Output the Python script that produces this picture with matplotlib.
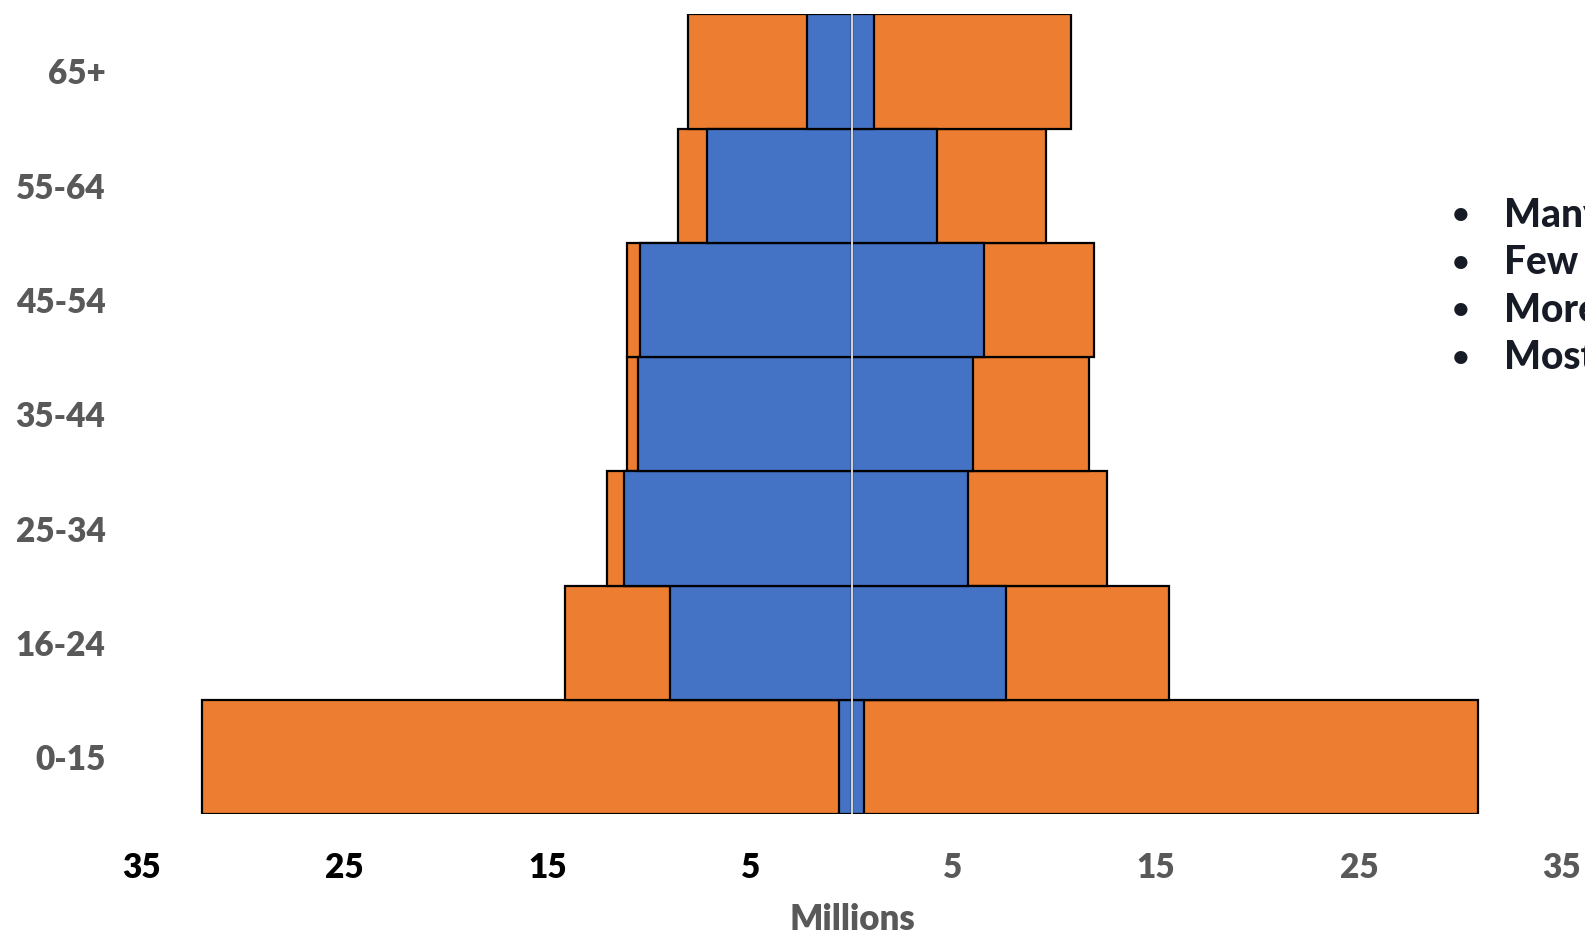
import matplotlib
matplotlib.use("Agg")
import matplotlib.pyplot as plt
import numpy as np

# Age bands, bottom to top
age_groups = ["0-15", "16-24", "25-34", "35-44", "45-54", "55-64", "65+"]

# Millions of people; left half of the pyramid, right half of the pyramid
left_total = [32.0, 14.15, 12.04, 11.06, 11.06, 8.55, 8.06]
left_blue = [0.64, 8.97, 11.22, 10.51, 10.44, 7.12, 2.18]
right_blue = [0.60, 7.63, 5.72, 6.00, 6.51, 4.20, 1.11]
right_total = [30.85, 15.66, 12.59, 11.71, 11.97, 9.60, 10.83]

tick_values = [-35, -25, -15, -5, 5, 15, 25, 35]
tick_labels = ["35", "25", "15", "5", "5", "15", "25", "35"]

notes = ["Many", "Few", "More", "Most"]

ORANGE = "#ED7D31"
BLUE = "#4472C4"
GREY = "#595959"
NAVY = "#161b26"
FONT = "Lato"
WEIGHT = "heavy"

fig = plt.figure(figsize=(15.85, 9.35), dpi=100)
ax = fig.add_axes([0.0893, 0.1291, 0.9853 - 0.0893, 0.9848 - 0.1291])

y = np.arange(len(age_groups))
bar_kw = dict(height=1.0, edgecolor="black", linewidth=1.6)

ax.barh(y, -np.array(left_total), color=ORANGE, zorder=2, **bar_kw)
ax.barh(y, np.array(right_total), color=ORANGE, zorder=2, **bar_kw)
ax.barh(y, -np.array(left_blue), color=BLUE, zorder=3, **bar_kw)
ax.barh(y, np.array(right_blue), color=BLUE, zorder=3, **bar_kw)

ax.axvline(0, color="#e6e6e6", linewidth=1.3, zorder=4)

ax.set_xlim(-35, 35)
ax.set_ylim(-0.5, len(age_groups) - 0.5)

ax.set_yticks(y)
ax.set_yticklabels(age_groups, fontfamily=FONT, fontweight=WEIGHT,
                   fontsize=24, color=GREY)
ax.tick_params(axis="y", length=0, pad=26)

ax.set_xticks(tick_values)
ax.set_xticklabels(tick_labels, fontfamily=FONT, fontweight=WEIGHT, fontsize=24)
ax.tick_params(axis="x", length=0, pad=27)
for lbl, v in zip(ax.get_xticklabels(), tick_values):
    lbl.set_color("black" if v < 0 else GREY)

# Axis title under the tick labels
fig.text(852 / 1585, 1 - 919 / 935, "Millions", fontfamily=FONT,
         fontweight=WEIGHT, fontsize=25, color=GREY, ha="center", va="center")

for s in ax.spines.values():
    s.set_visible(False)

# Bullet notes on the right
note_y = [215, 263, 310, 358]
for txt, py in zip(notes, note_y):
    fy = 1 - py / 935
    fig.text(1461 / 1585, fy, "\u2022", fontfamily=FONT, fontweight="bold",
             fontsize=22, color=NAVY, ha="center", va="center")
    fig.text(1504 / 1585, fy, txt, fontfamily=FONT, fontweight="black",
             fontsize=28, color=NAVY, ha="left", va="center")

fig.savefig("out.png", dpi=100)
